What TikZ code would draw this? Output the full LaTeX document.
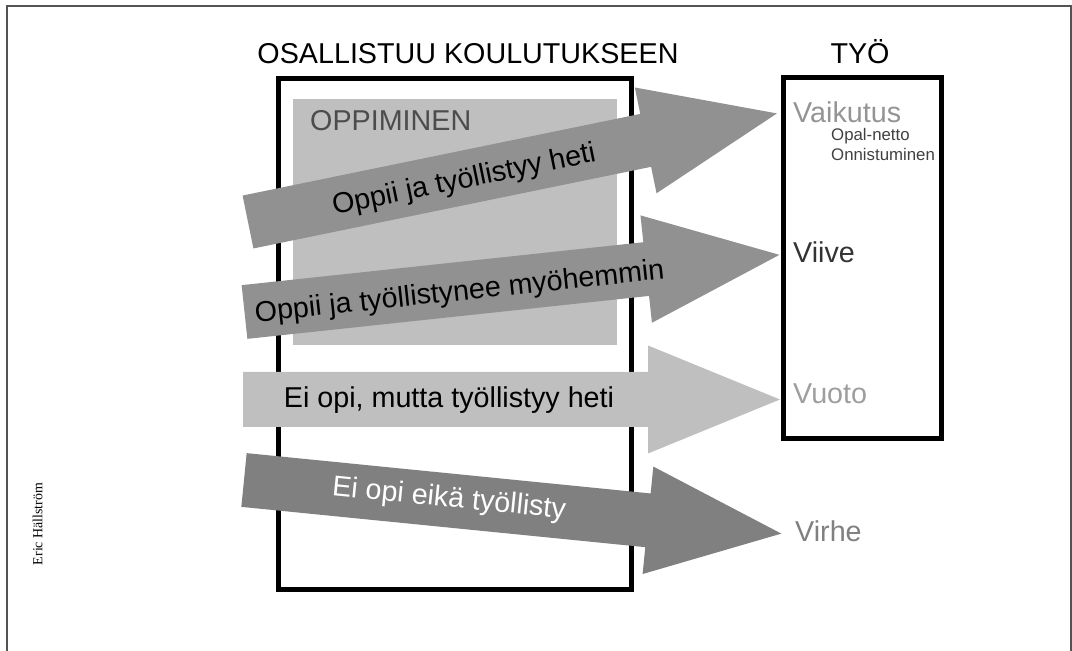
\documentclass[tikz,border=0pt]{standalone}
\usepackage{fontspec}
\setmainfont{Liberation Sans}
\newfontfamily\signfont{Liberation Serif}
\usepackage{tikz}
\usetikzlibrary{calc}
\definecolor{frame-gray}{rgb}{0.33, 0.33, 0.33}
\definecolor{learn-gray}{rgb}{0.75, 0.75, 0.75}
\definecolor{mid-gray}{rgb}{0.57, 0.57, 0.57}
\definecolor{dark-gray}{rgb}{0.5, 0.5, 0.5}

\begin{document}
\begin{tikzpicture}[x=1pt,y=1pt,
		box/.style={draw=black,line width=5pt},
		big/.style={font=\fontsize{28.7}{34}\selectfont},
		small/.style={font=\fontsize{16.8}{20}\selectfont},
		arrowtext/.style={big,inner sep=0pt,transform shape}
	]
		\useasboundingbox (0,0) rectangle (1072,651);
		% Outer frame
		\draw[frame-gray,line width=1.5pt] (7,0) -- (7,645) -- (1071,645) -- (1071,0);
		
		% Boxes
		\draw[box] (278.5,572.5) rectangle (631.5,61);
		\draw[box] (783.5,573.5) rectangle (941.5,212.5);
		\fill[learn-gray] (293,552) rectangle (617,306);
		
		% Headings
		\node[big,anchor=base] (koulutus) at (468,587) {OSALLISTUU KOULUTUKSEEN};
		\node[big,anchor=base] (tyo) at (860,587) {TYÖ};
		\node[big,anchor=base west,inner sep=0pt,text=black!70] (oppiminen) at (310,520) {OPPIMINEN};
		
		% Arrows
		\begin{scope}[shift={(248,429)},rotate=11.6]
			\fill[mid-gray] (0,-27) -- (406,-27) -- (406,-54) -- (540,0) -- (406,54) -- (406,27) -- (0,27) -- cycle;
			\node[arrowtext] (heti) at (220,-3) {Oppii ja työllistyy heti};
		\end{scope}
		\begin{scope}[shift={(244.5,339)},rotate=6.1]
			\fill[mid-gray] (0,-27) -- (404,-27) -- (404,-54) -- (538,0) -- (404,54) -- (404,27) -- (0,27) -- cycle;
			\node[arrowtext] (myohemmin) at (216,-4) {Oppii ja työllistynee myöhemmin};
		\end{scope}
		\begin{scope}[shift={(243,251.5)}]
			\fill[learn-gray] (0,-27.5) -- (405,-27.5) -- (405,-54) -- (537,0) -- (405,54) -- (405,27.5) -- (0,27.5) -- cycle;
			\node[arrowtext] (vuoto-arrow) at (206,-1) {Ei opi, mutta työllistyy heti};
		\end{scope}
		\begin{scope}[shift={(244,171)},rotate=-5.7]
			\fill[dark-gray] (0,-27) -- (406,-27) -- (406,-54) -- (540,0) -- (406,54) -- (406,27) -- (0,27) -- cycle;
			\node[arrowtext,text=white] (virhe-arrow) at (206,1) {Ei opi eikä työllisty};
		\end{scope}
		
		% Outcomes
		\node[big,anchor=base west,inner sep=0pt,text=black!42] (vaikutus) at (793,528) {Vaikutus};
		\node[small,anchor=base west,inner sep=0pt,text=black!75] (opal) at (831,510) {Opal-netto};
		\node[small,anchor=base west,inner sep=0pt,text=black!75] (onnistuminen) at (831,490) {Onnistuminen};
		\node[big,anchor=base west,inner sep=0pt,text=black!80] (viive) at (793,388) {Viive};
		\node[big,anchor=base west,inner sep=0pt,text=black!38] (vuoto) at (793,247) {Vuoto};
		\node[big,anchor=base west,inner sep=0pt,text=black!50] (virhe) at (795,109) {Virhe};
		
		% Signature
		\node[rotate=90,font=\signfont\fontsize{13.9}{16}\selectfont] (eric) at (37.5,127) {Eric Hällström};
	\end{tikzpicture}
\end{document}
